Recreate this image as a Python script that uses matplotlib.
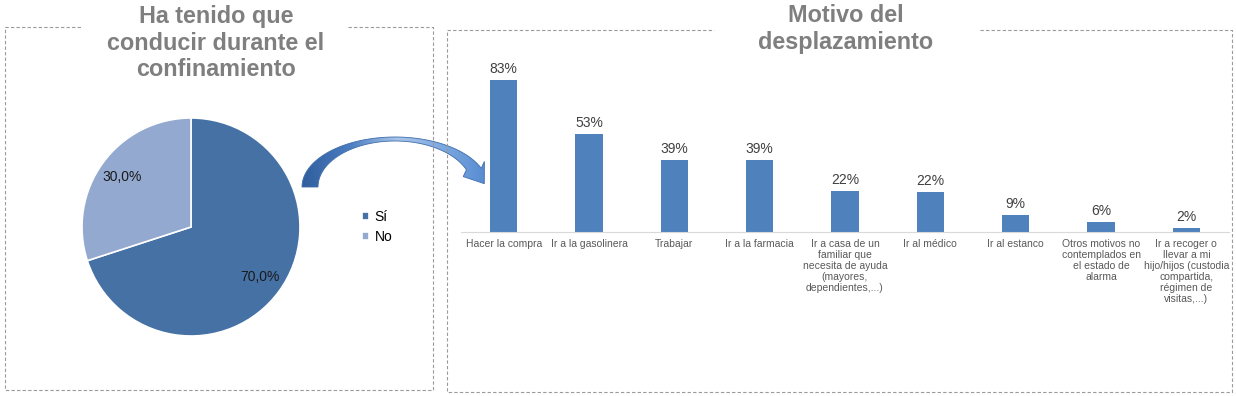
import numpy as np
import matplotlib.pyplot as plt
from matplotlib.patches import Polygon
from matplotlib.lines import Line2D
from matplotlib.colors import LinearSegmentedColormap

plt.rcParams['font.family'] = ['Liberation Sans', 'DejaVu Sans']

#----- DATA -----

pie_labels = ['Sí', 'No']
pie_values = [70.0, 30.0]
pie_colors = ['#4571a5', '#93a9cf']

motivos = ['Hacer la compra',
           'Ir a la gasolinera',
           'Trabajar',
           'Ir a la farmacia',
           'Ir a casa de un\nfamiliar que\nnecesita de ayuda\n(mayores,\ndependientes,...)',
           'Ir al médico',
           'Ir al estanco',
           'Otros motivos no\ncontemplados en\nel estado de\nalarma',
           'Ir a recoger o\nllevar a mi\nhijo/hijos (custodia\ncompartida,\nrégimen de\nvisitas,...)']
porcentajes = [82.6, 53.4, 39.0, 39.0, 22.4, 21.7, 9.1, 5.6, 2.0]

#----- LAYOUT HELPERS (pixel -> figure fraction) -----

W, H = 1236, 396

def fx(x):
    return x / W

def fy(y):
    return 1 - y / H

fig = plt.figure(figsize=(W / 100, H / 100), dpi=100)

# overlay in pixel units for the decorations (boxes, arrow)
ax0 = fig.add_axes([0, 0, 1, 1])
ax0.set_xlim(0, W)
ax0.set_ylim(H, 0)
ax0.axis('off')

def dashed_box(x0, y0, x1, y1, g0, g1):
    # rectangle with a gap in the top edge for the title
    xs = [g1, x1, x1, x0, x0, g0]
    ys = [y0, y0, y1, y1, y0, y0]
    ax0.plot(xs, ys, color='#9a9a9a', lw=0.8, ls=(0, (3, 2)), zorder=3)

dashed_box(5, 27, 433, 390, 82, 348)
dashed_box(447, 30, 1232, 392, 714, 980)

title_kw = dict(fontsize=16.8, fontweight='bold', color='#7f7f7f',
                ha='center', va='center', linespacing=1.2)
fig.text(fx(216), fy(43), 'Ha tenido que\nconducir durante el\nconfinamiento', **title_kw)
fig.text(fx(846), fy(29), 'Motivo del\ndesplazamiento', **title_kw)

#----- CURVED ARROW (office-like shape with gradient) -----

cx, cy = 395, 187
t = np.radians(np.linspace(180, 22, 80))
outer = np.c_[cx + 93 * np.cos(t), cy - 50 * np.sin(t)]
inner = np.c_[cx + 77 * np.cos(t), cy - 46 * np.sin(t)]
mid = (outer[-1] + inner[-1]) / 2
d = np.array([85 * np.sin(t[-1]), 48 * np.cos(t[-1])])
d = d / np.hypot(*d)
n = np.array([d[1], -d[0]])
head = [mid + 13 * n, mid + 18 * d, mid - 13 * n]
pts = np.vstack([outer, head[:1], head[1:2], head[2:], inner[::-1]])
arrow = Polygon(pts, closed=True, facecolor='none', edgecolor='#3f6dab', lw=0.6, zorder=2)
ax0.add_patch(arrow)
grad = LinearSegmentedColormap.from_list('g', ['#2f5d9c', '#4a7cc0', '#a9c5ea', '#7aa6de', '#4f86cf'])
img = ax0.imshow(np.linspace(0, 1, 256)[None, :], extent=(300, 495, 195, 130),
                 cmap=grad, aspect='auto', zorder=1)
img.set_clip_path(arrow)
ax0.set_xlim(0, W)
ax0.set_ylim(H, 0)

#----- PIE -----

ax1 = fig.add_axes([fx(82), fy(336), (300 - 82) / W, (336 - 118) / H])
wedges, texts, autotexts = ax1.pie(
    pie_values, colors=pie_colors, startangle=90, counterclock=False,
    autopct=lambda p: f'{p:.1f}%'.replace('.', ','), pctdistance=0.78,
    wedgeprops=dict(edgecolor='white', linewidth=1.2),
    textprops=dict(fontsize=10, color='#1a1a1a'))
ax1.set_xlim(-1, 1)
ax1.set_ylim(-1, 1)

fig.legend(wedges, pie_labels, loc='center left',
           bbox_to_anchor=(fx(349), fy(227)), frameon=False, fontsize=10,
           handlelength=0.55, handleheight=0.55, handletextpad=0.4,
           labelspacing=0.4)

#----- BARS -----

ax2 = fig.add_axes([fx(461), fy(232), (1229 - 461) / W, (232 - 48) / H])
ax2.patch.set_visible(False)
bars = ax2.bar(range(len(motivos)), porcentajes, width=0.32, color='#4f81bd')
ax2.set_xlim(-0.5, len(motivos) - 0.5)
ax2.set_ylim(0, 100)
ax2.bar_label(bars, labels=[f'{round(v)}%' for v in porcentajes],
              padding=3, fontsize=10, color='#404040')
ax2.set_xticks(range(len(motivos)), motivos, fontsize=7.5, color='#595959',
               linespacing=1.12)
ax2.set_yticks([])
ax2.tick_params(length=0, pad=5)
for s in ['left', 'right', 'top']:
    ax2.spines[s].set_visible(False)
ax2.spines['bottom'].set_color('#d9d9d9')

fig.savefig('out.png', dpi=100)
